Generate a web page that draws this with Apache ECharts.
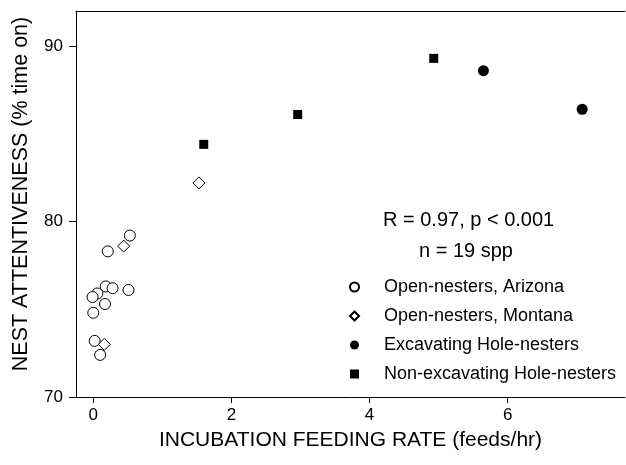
<!DOCTYPE html>
<html>
<head>
<meta charset="utf-8">
<script src="https://cdn.jsdelivr.net/npm/echarts@6/dist/echarts.min.js"></script>
<style>
  html, body { margin: 0; padding: 0; background: #fff; }
  #chart { width: 626px; height: 465px; }
</style>
</head>
<body>
<div id="chart"></div>
<script>
// data: [feeding rate (feeds/hr), attentiveness (% time on)]
var arizona = [
  [0.53, 79.2], [0.21, 78.3], [0.18, 76.3], [0.28, 76.2], [0.06, 75.9],
  [-0.01, 75.7], [0.51, 76.1], [0.17, 75.3], [0.0, 74.8], [0.02, 73.2], [0.10, 72.4]
]
var montana = [[0.44, 78.6], [0.16, 73.0], [1.53, 82.2]]
var excavating = [[5.65, 88.6], [7.08, 86.4]]
var nonExcavating = [[1.60, 84.4], [2.96, 86.1], [4.93, 89.3]]

var font = 'Liberation Sans, Arial, sans-serif'

var chart = echarts.init(document.getElementById('chart'))

chart.setOption({
  animation: false,
  textStyle: { fontFamily: font, color: '#000' },
  grid: {
    left: 76,
    right: 1,
    top: 11,
    bottom: 68,
    containLabel: false,
    outerBoundsMode: 'none'
  },
  legend: {
    orient: 'vertical',
    left: 344,
    top: 273,
    itemWidth: 9,
    itemHeight: 9,
    itemGap: 11,
    textStyle: { fontSize: 18, fontFamily: font, color: '#000', padding: [0, 0, 0, 20] },
    data: ['Open-nesters, Arizona', 'Open-nesters, Montana', 'Excavating Hole-nesters', 'Non-excavating Hole-nesters']
  },
  graphic: [
    {
      type: 'text', left: 383, top: 210,
      style: { text: 'R = 0.97, p < 0.001', fontSize: 20, fontFamily: font, fill: '#000' }
    },
    {
      type: 'text', left: 419, top: 241,
      style: { text: 'n = 19 spp', fontSize: 20, fontFamily: font, fill: '#000' }
    }
  ],
  xAxis: [
    {
      type: 'value',
      min: -0.25,
      max: 7.7,
      splitNumber: 4,
      name: 'INCUBATION FEEDING RATE (feeds/hr)',
      nameLocation: 'middle',
      nameGap: 33,
      nameTextStyle: { fontSize: 21, fontFamily: font, color: '#000' },
      axisLine: { show: true, onZero: false, lineStyle: { color: '#000', width: 1 } },
      axisTick: { show: true, inside: false, length: 6, lineStyle: { color: '#000', width: 1 } },
      axisLabel: { showMinLabel: false, showMaxLabel: false, fontSize: 17, margin: 10, color: '#000', fontFamily: font },
      splitLine: { show: false }
    },
    {
      // top frame line
      type: 'value',
      position: 'top',
      min: -0.25,
      max: 7.7,
      axisLine: { show: true, onZero: false, lineStyle: { color: '#000', width: 1 } },
      axisTick: { show: false },
      axisLabel: { show: false },
      splitLine: { show: false }
    }
  ],
  yAxis: {
    type: 'value',
    min: 70,
    max: 92,
    interval: 10,
    name: 'NEST ATTENTIVENESS (% time on)',
    nameLocation: 'middle',
    nameGap: 44,
    nameTextStyle: { fontSize: 21.5, fontFamily: font, color: '#000', padding: [0, 0, 0, 20] },
    axisLine: { show: true, onZero: false, lineStyle: { color: '#000', width: 1 } },
    axisTick: { show: true, inside: false, length: 7, lineStyle: { color: '#000', width: 1 } },
    axisLabel: { showMaxLabel: false, fontSize: 17, margin: 13, color: '#000', fontFamily: font },
    splitLine: { show: false }
  },
  series: [
    {
      name: 'Open-nesters, Arizona',
      type: 'scatter',
      symbol: 'circle',
      symbolSize: 11,
      itemStyle: { color: '#fff', borderColor: '#000', borderWidth: 1, opacity: 1 },
      data: arizona
    },
    {
      name: 'Open-nesters, Montana',
      type: 'scatter',
      symbol: 'diamond',
      symbolSize: 12,
      itemStyle: { color: '#fff', borderColor: '#000', borderWidth: 1, opacity: 1 },
      data: montana
    },
    {
      name: 'Excavating Hole-nesters',
      type: 'scatter',
      symbol: 'circle',
      symbolSize: 11,
      itemStyle: { color: '#000', opacity: 1 },
      data: excavating
    },
    {
      name: 'Non-excavating Hole-nesters',
      type: 'scatter',
      symbol: 'rect',
      symbolSize: 9,
      itemStyle: { color: '#000', opacity: 1 },
      data: nonExcavating
    }
  ]
})
</script>
</body>
</html>
